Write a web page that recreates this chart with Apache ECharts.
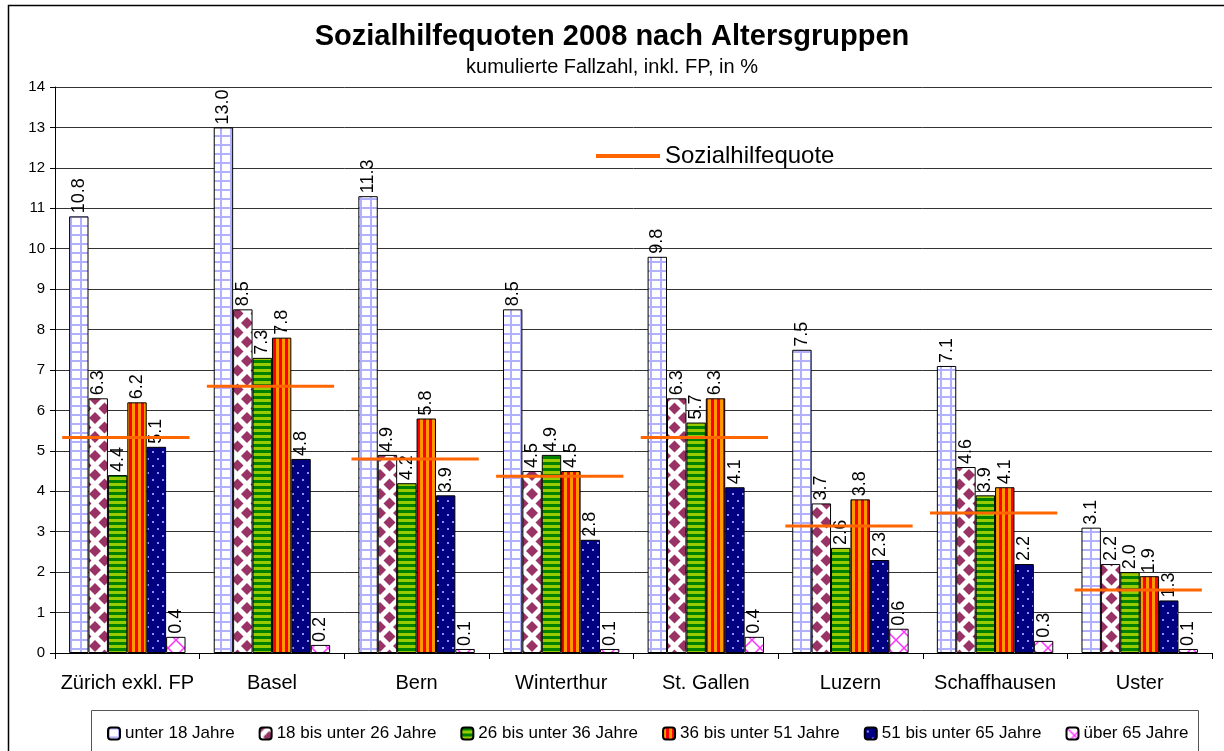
<!DOCTYPE html>
<html>
<head>
<meta charset="utf-8">
<script src="https://cdn.jsdelivr.net/npm/echarts@6/dist/echarts.min.js"></script>
<style>
  html, body { margin: 0; padding: 0; background: #fff; }
  #chart { width: 1224px; height: 751px; }
</style>
</head>
<body>
<div id="chart"></div>
<script>
// Daten
const cities = ['Zürich exkl. FP', 'Basel', 'Bern', 'Winterthur', 'St. Gallen', 'Luzern', 'Schaffhausen', 'Uster']
const ageGroups = ['unter 18 Jahre', '18 bis unter 26 Jahre', '26 bis unter 36 Jahre', '36 bis unter 51 Jahre', '51 bis unter 65 Jahre', 'über 65 Jahre']
const unter18 = [10.8, 13.0, 11.3, 8.5, 9.8, 7.5, 7.1, 3.1]
const von18bis26 = [6.3, 8.5, 4.9, 4.5, 6.3, 3.7, 4.6, 2.2]
const von26bis36 = [4.4, 7.3, 4.2, 4.9, 5.7, 2.6, 3.9, 2.0]
const von36bis51 = [6.2, 7.8, 5.8, 4.5, 6.3, 3.8, 4.1, 1.9]
const von51bis65 = [5.1, 4.8, 3.9, 2.8, 4.1, 2.3, 2.2, 1.3]
const ueber65 = [0.4, 0.2, 0.1, 0.1, 0.4, 0.6, 0.3, 0.1]
const quote = [5.33, 6.6, 4.8, 4.37, 5.33, 3.14, 3.46, 1.56]
const yTicks = [0, 1, 2, 3, 4, 5, 6, 7, 8, 9, 10, 11, 12, 13, 14]

const FONT = 'Arial, "Liberation Sans", sans-serif'

// Muster (wie Excel-Füllmuster)
const makePattern = (w, h, draw) => {
  const c = document.createElement('canvas')
  c.width = w
  c.height = h
  const ctx = c.getContext('2d')
  draw(ctx, w, h)
  return { image: c, repeat: 'repeat' }
}

const diamond = (ctx, x, y, r) => {
  ctx.beginPath()
  ctx.moveTo(x, y - r)
  ctx.lineTo(x + r, y)
  ctx.lineTo(x, y + r)
  ctx.lineTo(x - r, y)
  ctx.closePath()
  ctx.fill()
}

const patterns = [
  makePattern(10, 9, (ctx, w, h) => {
    ctx.fillStyle = '#fff'
    ctx.fillRect(0, 0, w, h)
    ctx.fillStyle = '#b0b0ff'
    ctx.fillRect(0, 0, w, 2)
    ctx.fillRect(0, 0, 2, h)
  }),
  makePattern(19, 19, (ctx, w, h) => {
    ctx.fillStyle = '#fff'
    ctx.fillRect(0, 0, w, h)
    ctx.fillStyle = '#993366'
    diamond(ctx, w / 2, h / 2, 6)
    diamond(ctx, 0, 0, 6)
    diamond(ctx, w, 0, 6)
    diamond(ctx, 0, h, 6)
    diamond(ctx, w, h, 6)
  }),
  makePattern(6, 6, (ctx, w, h) => {
    ctx.fillStyle = '#008000'
    ctx.fillRect(0, 0, w, 3)
    ctx.fillStyle = '#99cc00'
    ctx.fillRect(0, 3, w, 3)
  }),
  makePattern(6, 6, (ctx, w, h) => {
    ctx.fillStyle = '#ff9900'
    ctx.fillRect(0, 0, 3, h)
    ctx.fillStyle = '#ff0000'
    ctx.fillRect(3, 0, 3, h)
  }),
  makePattern(10, 14, (ctx, w, h) => {
    ctx.fillStyle = '#000080'
    ctx.fillRect(0, 0, w, h)
    ctx.fillStyle = '#8f8fff'
    ctx.fillRect(2, 3, 2, 2)
    ctx.fillRect(7, 10, 2, 2)
  }),
  makePattern(16, 16, (ctx, w, h) => {
    ctx.fillStyle = '#fff'
    ctx.fillRect(0, 0, w, h)
    ctx.strokeStyle = '#ff33ff'
    ctx.lineWidth = 1.5
    ctx.beginPath()
    ctx.moveTo(0, 0); ctx.lineTo(w, h)
    ctx.moveTo(w, 0); ctx.lineTo(0, h)
    ctx.stroke()
  }),
]

const seriesValues = [unter18, von18bis26, von26bis36, von36bis51, von51bis65, ueber65]

const barSeries = ageGroups.map((name, i) => ({
  name,
  type: 'bar',
  data: seriesValues[i],
  barGap: 0,
  barCategoryGap: '19.5%',
  itemStyle: { color: patterns[i], borderColor: '#000', borderWidth: 1 },
  label: {
    show: true,
    position: 'top',
    rotate: 90,
    align: 'left',
    verticalAlign: 'middle',
    distance: 3,
    color: '#000',
    fontSize: 18,
    fontFamily: FONT,
    formatter: (p) => p.value.toFixed(1),
  },
  emphasis: { disabled: true },
}))

const chart = echarts.init(document.getElementById('chart'))

chart.setOption({
  backgroundColor: '#fff',
  animation: false,
  title: {
    text: 'Sozialhilfequoten 2008 nach Altersgruppen',
    subtext: 'kumulierte Fallzahl, inkl. FP, in %',
    left: 'center',
    top: 17,
    itemGap: 6,
    textStyle: { fontSize: 29, fontWeight: 'bold', color: '#000', fontFamily: FONT },
    subtextStyle: { fontSize: 20, color: '#000', fontFamily: FONT },
  },
  legend: [
    {
      data: ageGroups,
      left: 102,
      top: 720,
      itemWidth: 12,
      itemHeight: 12,
      itemGap: 24,
      selectedMode: false,
      textStyle: { fontSize: 17, color: '#000', fontFamily: FONT },
    },
    {
      data: ['Sozialhilfequote'],
      left: 591,
      top: 139,
      icon: 'rect',
      itemWidth: 64,
      itemHeight: 4,
      selectedMode: false,
      textStyle: { fontSize: 24, color: '#000', fontFamily: FONT },
    },
  ],
  grid: { left: 55, right: 12, top: 87, bottom: 98, containLabel: false },
  xAxis: {
    type: 'category',
    data: cities,
    axisLine: { lineStyle: { color: '#000', width: 1 } },
    axisTick: { show: true, length: 6, lineStyle: { color: '#000' } },
    axisLabel: { color: '#000', fontSize: 20, fontFamily: FONT, margin: 20, interval: 0 },
  },
  yAxis: {
    type: 'value',
    min: yTicks[0],
    max: yTicks[yTicks.length - 1],
    interval: 1,
    axisLine: { show: true, lineStyle: { color: '#000', width: 1 } },
    axisTick: { show: true, length: 5, lineStyle: { color: '#000' } },
    axisLabel: { color: '#000', fontSize: 15, fontFamily: FONT, margin: 10 },
    splitLine: { lineStyle: { color: '#333', width: 1 } },
  },
  series: [
    ...barSeries,
    {
      name: 'Sozialhilfequote',
      type: 'custom',
      z: 5,
      itemStyle: { color: '#ff6600' },
      data: quote.map((v, i) => [i, v]),
      encode: { x: 0, y: 1 },
      renderItem: (params, api) => {
        const c = api.coord([api.value(0), api.value(1)])
        const w = api.size([1, 0])[0]
        return {
          type: 'line',
          shape: { x1: c[0] - w * 0.45, y1: c[1], x2: c[0] + w * 0.43, y2: c[1] },
          style: { stroke: '#ff6600', lineWidth: 3 },
        }
      },
    },
  ],
  graphic: [
    {
      type: 'rect',
      silent: true,
      shape: { x: 8.5, y: 5.5, width: 1240, height: 780 },
      style: { fill: 'none', stroke: '#000', lineWidth: 1.5 },
    },
    {
      type: 'rect',
      silent: true,
      shape: { x: 91.5, y: 710.5, width: 1107, height: 60 },
      style: { fill: 'none', stroke: '#555', lineWidth: 1 },
    },
  ],
})

window.addEventListener('resize', () => chart.resize())
</script>
</body>
</html>
